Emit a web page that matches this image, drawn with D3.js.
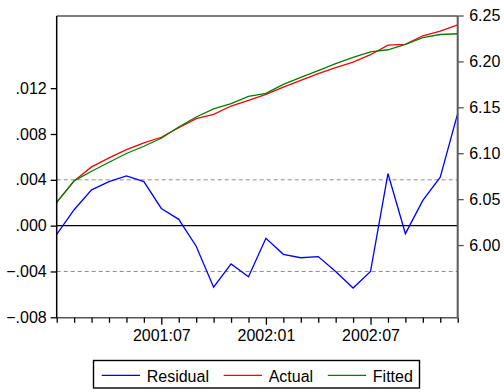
<!DOCTYPE html>
<html><head><meta charset="utf-8">
<script src="https://cdn.jsdelivr.net/npm/d3@7/dist/d3.min.js"></script>
<style>body{margin:0;background:#fff}svg{display:block}text{font-family:"Liberation Sans",Arial,sans-serif}</style>
</head><body>
<svg id="c" width="504" height="392"></svg>
<script>
const months = ["2001:01","2001:02","2001:03","2001:04","2001:05","2001:06","2001:07","2001:08","2001:09","2001:10","2001:11","2001:12",
  "2002:01","2002:02","2002:03","2002:04","2002:05","2002:06","2002:07","2002:08","2002:09","2002:10","2002:11","2002:12"];
const residual = [-0.00076,0.00139,0.00313,0.00385,0.00435,0.00385,0.0015,0.00055,-0.0018,-0.00537,-0.00334,-0.00447,
  -0.0011,-0.0025,-0.0028,-0.0027,-0.0040,-0.00545,-0.0040,0.00455,-0.0007,0.0022,0.00423,0.0098];
const actual = [6.0464,6.0699,6.0851,6.0949,6.1040,6.1112,6.1174,6.1279,6.1377,6.1424,6.1514,6.1576,
  6.1641,6.1720,6.1793,6.1866,6.1932,6.1993,6.2073,6.2177,6.2185,6.2279,6.2329,6.2399];
const fitted = [6.0464,6.0699,6.0804,6.0902,6.0997,6.1076,6.1163,6.1286,6.1395,6.1482,6.1540,6.1620,
  6.1652,6.1750,6.1826,6.1899,6.1975,6.2043,6.2105,6.2127,6.2185,6.2258,6.2293,6.2301];
const leftTicks = [-0.008,-0.004,0,0.004,0.008,0.012];
const rightTicks = [6.00,6.05,6.10,6.15,6.20,6.25];
const xLabels = ["2001:07","2002:01","2002:07"];
const bandValues = [-0.004, 0.004];
const seriesNames = ["Residual","Actual","Fitted"];
const seriesColors = ["#0000ff","#ff0000","#008000"];

const svg = d3.select("#c");
const L = 56.7, R = 457.7, T = 16, B = 317.8;
const x = d3.scalePoint().domain(months).range([L, R]);
const yL = d3.scaleLinear().domain([-0.008, 0.0183]).range([317.3, 16]);
const yR = d3.scaleLinear().domain([5.9213, 6.25]).range([317.3, 15.5]);

// bands and zero line
svg.append("g").selectAll("line").data(bandValues).join("line")
  .attr("x1", L).attr("x2", R).attr("y1", d => yL(d)).attr("y2", d => yL(d))
  .attr("stroke", "#8c8c8c").attr("stroke-width", 1).attr("stroke-dasharray", "4,3");
svg.append("line").attr("x1", L).attr("x2", R).attr("y1", yL(0)).attr("y2", yL(0))
  .attr("stroke", "#000").attr("stroke-width", 1.2);

// lines
const lineL = d3.line().x((d, i) => x(months[i])).y(d => yL(d));
const lineR = d3.line().x((d, i) => x(months[i])).y(d => yR(d));
svg.append("path").datum(actual).attr("d", lineR).attr("fill", "none").attr("stroke", seriesColors[1]).attr("stroke-width", 1.3);
svg.append("path").datum(fitted).attr("d", lineR).attr("fill", "none").attr("stroke", seriesColors[2]).attr("stroke-width", 1.3);
svg.append("path").datum(residual).attr("d", lineL).attr("fill", "none").attr("stroke", seriesColors[0]).attr("stroke-width", 1.3);

// frame
svg.append("line").attr("x1", L).attr("x2", R).attr("y1", T).attr("y2", T).attr("stroke", "#555").attr("stroke-width", 1.5);
svg.append("line").attr("x1", L).attr("x2", R).attr("y1", B).attr("y2", B).attr("stroke", "#555").attr("stroke-width", 1.6);
svg.append("line").attr("x1", R).attr("x2", R).attr("y1", T).attr("y2", B).attr("stroke", "#5a5a5a").attr("stroke-width", 2);
svg.append("line").attr("x1", L).attr("x2", L).attr("y1", T).attr("y2", B).attr("stroke", "#000").attr("stroke-width", 1.5);

const fmtL = d => d3.format(".3f")(d).replace("0.", ".");
const gL = svg.append("g").attr("transform", `translate(${L},0)`)
  .call(d3.axisLeft(yL).tickValues(leftTicks).tickFormat(fmtL).tickSize(6).tickPadding(4));
const gR = svg.append("g").attr("transform", `translate(${R},0)`)
  .call(d3.axisRight(yR).tickValues(rightTicks).tickFormat(d3.format(".2f")).tickSize(6).tickPadding(5.5));
const gB = svg.append("g").attr("transform", `translate(0,${B})`)
  .call(d3.axisBottom(x).tickValues(months).tickFormat(d => xLabels.includes(d) ? d : "").tickSize(5).tickPadding(6.5));
gB.selectAll(".tick line").attr("y2", d => xLabels.includes(d) ? 7 : 5);
[gL, gR, gB].forEach(g => {
  g.select(".domain").remove();
  g.selectAll("text").attr("font-size", 16).attr("fill", "#000").style("font-family", '"Liberation Sans",Arial,sans-serif');
});
gL.selectAll(".tick line").attr("stroke", "#000").attr("stroke-width", 1.3);
gR.selectAll(".tick line").attr("stroke", "#555").attr("stroke-width", 1.3);
gB.selectAll(".tick line").attr("stroke", "#000").attr("stroke-width", 1.3);

// legend
const lg = svg.append("g");
lg.append("rect").attr("x", 93.5).attr("y", 360.5).attr("width", 326).attr("height", 27.5)
  .attr("fill", "#fff").attr("stroke", "#000").attr("stroke-width", 1.4);
let lx = 101.7;
seriesNames.forEach((n, i) => {
  lg.append("line").attr("x1", lx).attr("x2", lx + 38.3).attr("y1", 375.3).attr("y2", 375.3)
    .attr("stroke", seriesColors[i]).attr("stroke-width", 1.3);
  const t = lg.append("text").attr("x", lx + 45).attr("y", 381.5).attr("font-size", 16).attr("fill", "#000").text(n);
  lx = lx + 45 + t.node().getComputedTextLength() + 14.7;
});
</script>
</body></html>
